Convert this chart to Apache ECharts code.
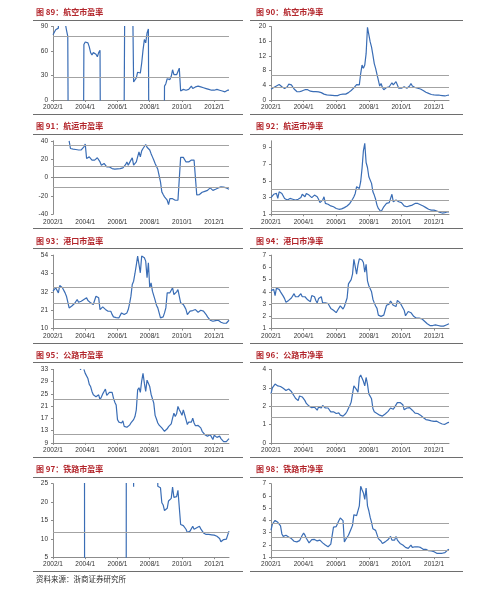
<!DOCTYPE html>
<html><head><meta charset="utf-8">
<script src="https://cdn.jsdelivr.net/npm/echarts/dist/echarts.min.js"></script>
<style>html,body{margin:0;padding:0;background:#fff}#c{width:500px;height:591px}</style>
</head><body><div id="c"></div>
<script>
// ---- categories (monthly, 2002/1 .. 2012/12) ----
const years = [2002, 2003, 2004, 2005, 2006, 2007, 2008, 2009, 2010, 2011, 2012];
const months = [];
years.forEach(y => { for (let m = 1; m <= 12; m++) months.push(y + '/' + m); });

const titles = ['图 89：航空市盈率', '图 90：航空市净率', '图 91：航运市盈率', '图 92：航运市净率',
  '图 93：港口市盈率', '图 94：港口市净率', '图 95：公路市盈率', '图 96：公路市净率',
  '图 97：铁路市盈率', '图 98：铁路市净率'];
const sourceText = '资料来源：浙商证券研究所';

// ---- series values (off-chart values are clipped by the plot area) ----
const peAir = [
  80, 82, 86, 88, 88, 300, 300, 300, 300, 95, 86, 78,
  -300, -300, -300, -300, -300, -300, -300, -300, -300, -300, -300, 68,
  71, 72, 70, 65, 58, 55, 58, 57, 56, 53, 58, 61,
  -300, -300, -300, -300, -300, -300, -300, -300, -300, -300, -300, -300,
  -300, -300, -300, -300, -300, -300, 300, 300, 300, 300, 300, 300,
  22, 21, 27, 34, 36, 33, 45, 61, 74, 70, 82, 87,
  -300, -300, -300, -300, -300, -300, -300, -300, -300, -300, -300, 17,
  20, 26, 25, 25, 29, 37, 31, 30, 31, 35, 39, 11,
  12, 13, 12, 12, 12, 13, 14, 17, 14, 15, 16, 17,
  17, 17, 16, 16, 15, 15, 14, 14, 13, 12, 12, 13,
  12, 12, 13, 12, 12, 11, 11, 10, 10, 11, 12, 12];
const pbAir = [
  2.9, 3.1, 3.4, 3.5, 3.8, 4.0, 4.2, 3.9, 3.6, 3.3, 3.1, 2.9,
  3.6, 4.3, 4.2, 4.1, 3.6, 3.0, 2.5, 2.3, 2.2, 2.25, 2.4, 2.5,
  2.7, 2.8, 2.9, 2.8, 2.7, 2.4, 2.3, 2.3, 2.25, 2.3, 2.3, 2.2,
  2.1, 2.0, 1.8, 1.6, 1.5, 1.4, 1.35, 1.3, 1.3, 1.25, 1.25, 1.2,
  1.2, 1.2, 1.1, 1.5, 1.8, 1.6, 1.45, 1.6, 1.8, 2.0, 2.25, 2.6,
  2.9, 3.3, 3.8, 4.2, 4.5, 4.1, 7.2, 9.5, 8.6, 9.5, 12.6, 19.8,
  19.4, 15.8, 14.4, 12.2, 9.9, 8.6, 7.0, 5.4, 3.8, 4.5, 3.4, 2.8,
  2.5, 3.4, 3.5, 3.6, 4.0, 4.7, 4.1, 4.5, 5.0, 5.4, 3.2, 3.4,
  3.2, 2.9, 3.6, 3.4, 3.2, 3.5, 3.8, 4.5, 3.8, 3.6, 3.4, 3.3,
  3.2, 3.1, 3.0, 2.9, 2.6, 2.25, 2.1, 1.9, 1.8, 1.7, 1.5, 1.45,
  1.4, 1.35, 1.35, 1.35, 1.3, 1.25, 1.2, 1.15, 1.1, 1.2, 1.3, 1.35];
const peShip = [
  null, null, null, null, null, null, null, null, null, null, null, null,
  40, 31.6, 31, 31, 30, 30.5, 29, 30, 29, 30, 30, 33.5,
  36.4, 20.7, 20.7, 22.5, 21.5, 19, 19.6, 19, 20.7, 21.5, 20, 17,
  13.5, 12.7, 15.3, 13.5, 11.6, 11, 11.6, 10.5, 9.8, 9.8, 9.1, 9.1,
  9.5, 9, 9.8, 9.8, 10.5, 11.6, 14, 17, 13.5, 14, 19, 21.5,
  13.5, 13.5, 17, 22.5, 28, 22.5, 29, 31.6, 33.5, 36, 33, 31.6,
  30, 26, 22.5, 19, 15.3, 13.5, 9, 8, -4.7, -15.6, -18.5, -21,
  -22, -24.7, -29.5, -23, -21, -23, -24.7, -24.7, -24.7, -24.7, -25, 22,
  22.5, 22, 21, 17, 15.3, 17, 17, 19, 18, 19, 17, -19,
  -19, -18.5, -17.5, -16, -15.6, -15, -14, -14, -12.7, -11.3, -12.7, -14,
  -14, -12.7, -12, -11.3, -10.2, -10.2, -10.2, -10.5, -11.3, -11.3, -12, -12.7];
const pbShip = [
  3.0, 3.2, 3.4, 3.6, 3.5, 2.9, 3.7, 3.6, 3.5, 3.3, 2.9, 2.8,
  2.7, 2.8, 2.9, 2.8, 2.8, 2.7, 2.7, 2.7, 2.8, 2.7, 3.0, 3.4,
  3.2, 3.1, 3.5, 3.4, 3.3, 3.2, 3.0, 3.2, 3.3, 3.4, 3.1, 2.8,
  2.4, 2.6, 2.7, 3.1, 2.3, 2.2, 2.2, 2.1, 2.0, 2.0, 1.9, 1.8,
  1.7, 1.65, 1.6, 1.6, 1.65, 1.7, 1.8, 1.9, 2.0, 2.1, 2.3, 2.5,
  2.8, 3.1, 3.5, 4.3, 4.2, 4.1, 4.9, 6.5, 8.6, 9.5, 7.2, 6.6,
  5.5, 5.3, 4.7, 3.7, 3.3, 2.8, 2.1, 1.7, 1.5, 1.3, 1.4, 1.9,
  2.1, 2.3, 2.4, 2.4, 2.6, 3.4, 2.5, 2.6, 2.7, 2.7, 2.5, 2.4,
  2.4, 2.3, 2.0, 1.9, 1.9, 1.95, 2.0, 2.1, 2.1, 2.2, 2.3, 2.4,
  2.3, 2.2, 2.15, 2.1, 2.0, 1.9, 1.8, 1.7, 1.6, 1.55, 1.5, 1.5,
  1.5, 1.5, 1.4, 1.3, 1.25, 1.2, 1.15, 1.2, 1.2, 1.25, 1.3, 1.3];
const pePort = [
  32.4, 33.5, 34.4, 35.4, 31.4, 35.8, 35.4, 34.5, 33.4, 31.4, 29.4, 26,
  22.4, 21.8, 23.5, 24.4, 25, 25.8, 27.4, 25.8, 26, 26.4, 27, 27.4,
  28, 28.4, 26.8, 26, 25.4, 25.4, 24.4, 27, 29.4, 29, 28.4, 21.4,
  22.4, 23, 23.4, 21.5, 20.4, 20.4, 20.4, 20.4, 18.5, 17, 17, 16.6,
  16.4, 16.4, 17.5, 19.4, 18.8, 18.4, 18.6, 19.4, 21.4, 25, 29.4, 36.4,
  38.4, 43, 48, 53.4, 52.4, 43.4, 53.4, 53, 52.4, 50.4, 40.4, 49.4,
  34.4, 37.4, 32.4, 31.4, 27, 24, 22.4, 21.4, 16.4, 15.4, 17, 19.4,
  22.4, 31.4, 31, 31.4, 33, 34.4, 30.4, 31, 32, 33.4, 34.4, 25.4,
  24.5, 24.4, 23, 21.4, 18.4, 19.5, 20.5, 21, 20.8, 20.4, 21.4, 20.5,
  19.8, 20.4, 21, 20.8, 20.5, 20.4, 18.4, 17, 16, 15, 14.4, 14.4,
  14.4, 14.8, 15, 15, 14.2, 13.8, 13.5, 13.2, 13, 13.2, 13.4, 15];
const pbPort = [
  4.1, 4.05, 4.2, 3.7, 4.3, 4.25, 4.2, 4.0, 3.85, 3.65, 3.45, 3.15,
  3.2, 3.3, 3.4, 3.5, 3.6, 3.85, 3.6, 3.6, 3.6, 3.7, 3.85, 3.6,
  3.75, 3.6, 3.45, 3.35, 3.3, 3.2, 3.7, 3.65, 3.6, 3.3, 3.1, 3.45,
  3.55, 3.6, 3.1, 3.1, 3.1, 3.1, 3.05, 2.85, 2.65, 2.5, 2.5, 2.5,
  2.3, 2.5, 2.65, 2.85, 2.7, 2.6, 2.8, 2.9, 3.5, 4.65, 4.7, 5.0,
  5.45, 6.65, 6.6, 5.45, 6.2, 6.7, 6.65, 6.6, 6.4, 5.6, 6.25, 4.9,
  4.5, 4.25, 4.0, 3.4, 3.1, 2.85, 2.65, 2.1, 2.05, 2.0, 2.05, 2.1,
  2.5, 2.9, 2.9, 3.0, 3.25, 3.1, 2.9, 2.85, 2.8, 3.3, 3.2, 3.1,
  2.9, 2.7, 2.5, 2.05, 2.2, 2.4, 2.25, 2.3, 2.25, 2.0, 1.85, 1.85,
  1.85, 1.85, 1.8, 1.8, 1.7, 1.6, 1.5, 1.4, 1.3, 1.25, 1.25, 1.25,
  1.25, 1.3, 1.3, 1.25, 1.2, 1.2, 1.2, 1.2, 1.25, 1.3, 1.4, 1.4];
const peRoad = [
  null, null, null, null, null, null, null, null, null, null, null, null,
  null, null, null, null, null, null, null, null, 33, 33, null, 33,
  31.7, 31.3, 30, 28.1, 27.4, 25.8, 24.7, 24.3, 24.1, 24.1, 24.7, 23.1,
  24, 25, 25.8, 26.6, 24.5, 25, 25.5, 25.8, 25.5, 23.6, 22.3, 21.4,
  16.6, 15.8, 15.6, 15.5, 16.2, 14.4, 14.2, 14.1, 14.3, 14.8, 15.5, 16,
  16.6, 17.6, 19.8, 26.3, 27, 25.5, 29.2, 31.7, 28.5, 25.8, 29.5, 29.3,
  27.4, 24.9, 24.8, 22, 18, 16.8, 15.5, 14.8, 14.4, 13.9, 13.3, 12.8,
  13.2, 13.6, 14.3, 14.8, 15.2, 17.1, 18.7, 17.6, 18.5, 20.9, 19.8, 19,
  18, 19.8, 18.2, 16.6, 15, 15.8, 16, 15.8, 17.1, 15.5, 14.6, 14.5,
  14.7, 14.6, 13.9, 12.8, 12.2, 11.7, 11.5, 11.2, 11.6, 11.7, 11.2, 10.1,
  11.5, 11.2, 10.8, 11, 11.2, 10.4, 9.8, 9.4, 9.3, 9.4, 9.5, 10.4];
const pbRoad = [
  2.67, 3.0, 3.1, 3.2, 3.15, 3.1, 3.08, 3.07, 3.03, 2.97, 2.9, 2.85,
  2.9, 2.93, 2.93, 2.8, 2.67, 2.55, 2.43, 2.35, 2.3, 2.55, 2.55, 2.5,
  2.43, 2.3, 2.15, 2.05, 2.0, 1.96, 1.92, 1.9, 1.95, 1.9, 1.78, 1.95,
  1.92, 1.9, 2.04, 1.95, 1.9, 1.95, 1.9, 1.83, 1.69, 1.69, 1.69, 1.65,
  1.6, 1.62, 1.63, 1.51, 1.48, 1.46, 1.51, 1.6, 1.72, 1.88, 2.04, 2.22,
  2.67, 3.1, 3.1, 2.9, 2.76, 3.56, 3.7, 3.6, 3.35, 3.1, 3.56, 3.2,
  2.67, 2.58, 2.4, 1.87, 1.69, 1.62, 1.6, 1.55, 1.51, 1.42, 1.46, 1.52,
  1.57, 1.6, 1.7, 1.78, 1.9, 1.9, 1.83, 1.95, 2.04, 2.19, 2.12, 2.2,
  2.26, 2.08, 1.8, 1.85, 1.9, 1.88, 1.92, 1.96, 1.78, 1.7, 1.62, 1.6,
  1.6, 1.55, 1.51, 1.45, 1.38, 1.3, 1.27, 1.24, 1.24, 1.24, 1.2, 1.19,
  1.17, 1.16, 1.18, 1.17, 1.1, 1.05, 1.03, 1.02, 1.01, 1.05, 1.1, 1.12];
const peRail = [
  null, null, null, null, null, null, null, null, null, null, null, null,
  null, null, null, null, null, null, null, null, null, null, null, 300,
  -300, -300, -300, -300, -300, -300, -300, -300, -300, -300, -300, -300,
  -300, -300, -300, -300, -300, -300, -300, -300, -300, -300, -300, -300,
  -300, -300, -300, -300, -300, -300, -300, 300, 300, 300, 300, 300,
  24.2, 300, 300, 300, 300, 300, 300, 300, 300, 300, 300, 300,
  300, 300, 300, 300, 300, 300, 24.3, 24.8, 23.9, 19.8, 19.2, 17.7,
  17.9, 18.3, 20.3, 20.7, 21, 24.1, 21.3, 21, 21.5, 23.2, 23.7, 13.9,
  13.9, 13.6, 13.4, 12.6, 11.7, 12.1, 12.1, 12.5, 13.4, 12.6, 13, 13,
  13.2, 13.4, 12.7, 12.3, 11.6, 11.4, 11.2, 11.2, 11.2, 11.1, 11.1, 11,
  11, 10.9, 10.7, 10.5, 10.1, 9.2, 9.5, 9.8, 9.9, 9.9, 11, 12.1];
const pbRail = [
  3.2, 3.7, 3.85, 4.0, 3.9, 3.85, 3.75, 3.55, 2.9, 2.7, 2.75, 2.79,
  2.72, 2.65, 2.58, 2.52, 2.39, 2.3, 2.25, 2.25, 2.25, 2.35, 2.44, 2.79,
  2.97, 2.8, 2.55, 2.39, 2.17, 2.25, 2.44, 2.39, 2.45, 2.52, 2.33, 2.25,
  2.39, 2.3, 2.17, 2.08, 1.99, 1.85, 1.85, 1.9, 2.07, 1.99, 3.45, 3.42,
  3.5, 3.59, 4.0, 4.2, 4.1, 3.99, 2.25, 2.45, 2.6, 2.79, 3.05, 3.32,
  3.6, 4.47, 4.4, 4.39, 4.52, 5.19, 6.79, 6.5, 6.25, 5.72, 6.65, 5.19,
  4.79, 4.25, 3.85, 3.32, 3.25, 3.19, 3.05, 2.52, 2.4, 2.3, 2.12, 2.17,
  2.25, 2.39, 2.42, 2.44, 2.7, 2.39, 2.39, 2.39, 2.7, 2.39, 2.25, 2.12,
  2.05, 1.99, 1.85, 1.8, 1.8, 1.72, 1.85, 1.99, 1.8, 1.82, 1.85, 1.85,
  1.85, 1.82, 1.8, 1.72, 1.64, 1.64, 1.64, 1.58, 1.53, 1.52, 1.51, 1.48,
  1.45, 1.4, 1.32, 1.27, 1.32, 1.32, 1.32, 1.35, 1.37, 1.48, 1.59, 1.64];

// ---- horizontal reference levels (grey lines) ----
const refAirPE = [78.5, 27.5];
const refAirPB = [6.8, 3.4];
const refShipPE = [35.3, 12.4, -10.2];
const refShipPB = [4.05, 2.67, 1.37];
const refPortPE = [35, 25.4, 15.8];
const refPortPB = [4.39, 3.1, 1.85];
const refRoadPE = [23.4, 11.7];
const refRoadPB = [2.7, 2.0, 1.37];
const refRailPE = [11.67];
const refRailPB = [3.8, 2.65, 1.59];

// ---- axis ranges: [min, max, interval] ----
const axisAirPE = [0, 90, 30];
const axisAirPB = [0, 20, 4];
const axisShipPE = [-40, 40, 20];
const axisShipPB = [1, 9.8, 2];
const axisPortPE = [10, 54, 11];
const axisPortPB = [1, 7, 1];
const axisRoadPE = [9, 33, 4];
const axisRoadPB = [0, 4, 1];
const axisRailPE = [5, 25, 5];
const axisRailPB = [1, 7, 1];

const seriesData = [peAir, pbAir, peShip, pbShip, pePort, pbPort, peRoad, pbRoad, peRail, pbRail];
const refs = [refAirPE, refAirPB, refShipPE, refShipPB, refPortPE, refPortPB, refRoadPE, refRoadPB, refRailPE, refRailPB];
const axes = [axisAirPE, axisAirPB, axisShipPE, axisShipPB, axisPortPE, axisPortPB, axisRoadPE, axisRoadPB, axisRailPE, axisRailPB];

const LABEL_FONT = 'Liberation Sans, Arial, sans-serif';
const CJK_FONT = 'Noto Sans CJK SC, sans-serif';
const ROW_H = 114.3;

const grids = [], xAxes = [], yAxes = [], series = [], titleArr = [], graphics = [];
for (let i = 0; i < 10; i++) {
  const col = i % 2, row = Math.floor(i / 2);
  const left = col === 0 ? 53 : 271;
  const width = col === 0 ? 176 : 178;
  const top = 26.5 + ROW_H * row;
  grids.push({ left: left, top: top, width: width, height: 73.5, containLabel: false });
  const isShipPE = (i === 2);
  xAxes.push({
    type: 'category', gridIndex: i, data: months, boundaryGap: false,
    axisLine: { show: !isShipPE, onZero: false, lineStyle: { color: '#8c8c8c', width: 1 } },
    axisTick: { show: !isShipPE, interval: 23, length: 2, lineStyle: { color: '#8c8c8c' } },
    axisLabel: { interval: 23, fontSize: 6.5, color: '#333', margin: 4, fontFamily: LABEL_FONT },
    splitLine: { show: false }
  });
  const ax = axes[i];
  yAxes.push({
    type: 'value', gridIndex: i, min: ax[0], max: ax[1], interval: ax[2],
    axisLine: { show: true, lineStyle: { color: '#8c8c8c', width: 1 } },
    axisTick: { show: true, length: 2, lineStyle: { color: '#8c8c8c' } },
    axisLabel: { fontSize: 6.5, color: '#333', margin: 5, fontFamily: LABEL_FONT, showMaxLabel: i !== 3 },
    splitLine: { show: false }
  });
  const mlData = refs[i].map(v => ({ yAxis: v }));
  const extra = isShipPE ? [{ yAxis: 0, lineStyle: { color: '#8c8c8c' } }] : [];
  series.push({
    type: 'line', xAxisIndex: i, yAxisIndex: i, data: seriesData[i],
    showSymbol: false, symbol: 'none', connectNulls: false, clip: true,
    lineStyle: { color: '#3a6db5', width: 1.2 },
    markLine: {
      silent: true, symbol: ['none', 'none'], label: { show: false },
      lineStyle: { color: '#a3a3a3', width: 1, type: 'solid' },
      data: mlData.concat(extra)
    },
    z: 3
  });
  titleArr.push({
    text: titles[i], left: col === 0 ? 36 : 256, top: 8 + ROW_H * row, padding: 0,
    textStyle: { fontSize: 8, fontWeight: 'bold', color: '#b3262c', fontFamily: CJK_FONT }
  });
  const x1 = col === 0 ? 33 : 250, x2 = col === 0 ? 243 : 463;
  const yTitleLine = Math.round(19.5 + ROW_H * row) + 0.5;
  const yBottom = Math.round(115 + ROW_H * row) - 0.5;
  graphics.push({ type: 'line', shape: { x1: x1, y1: yTitleLine, x2: x2, y2: yTitleLine }, style: { stroke: '#6e6e6e', lineWidth: 1 }, silent: true });
  graphics.push({ type: 'line', shape: { x1: x1, y1: yBottom, x2: x2, y2: yBottom }, style: { stroke: '#6e6e6e', lineWidth: 1 }, silent: true });
}
graphics.push({ type: 'text', left: 36, top: 575, style: { text: sourceText, fontSize: 7.5, fill: '#333', fontFamily: CJK_FONT }, silent: true });

const chart = echarts.init(document.getElementById('c'), null, { renderer: 'canvas' });
chart.setOption({
  animation: false,
  backgroundColor: '#fff',
  title: titleArr,
  grid: grids,
  xAxis: xAxes,
  yAxis: yAxes,
  series: series,
  graphic: graphics
});
</script></body></html>
